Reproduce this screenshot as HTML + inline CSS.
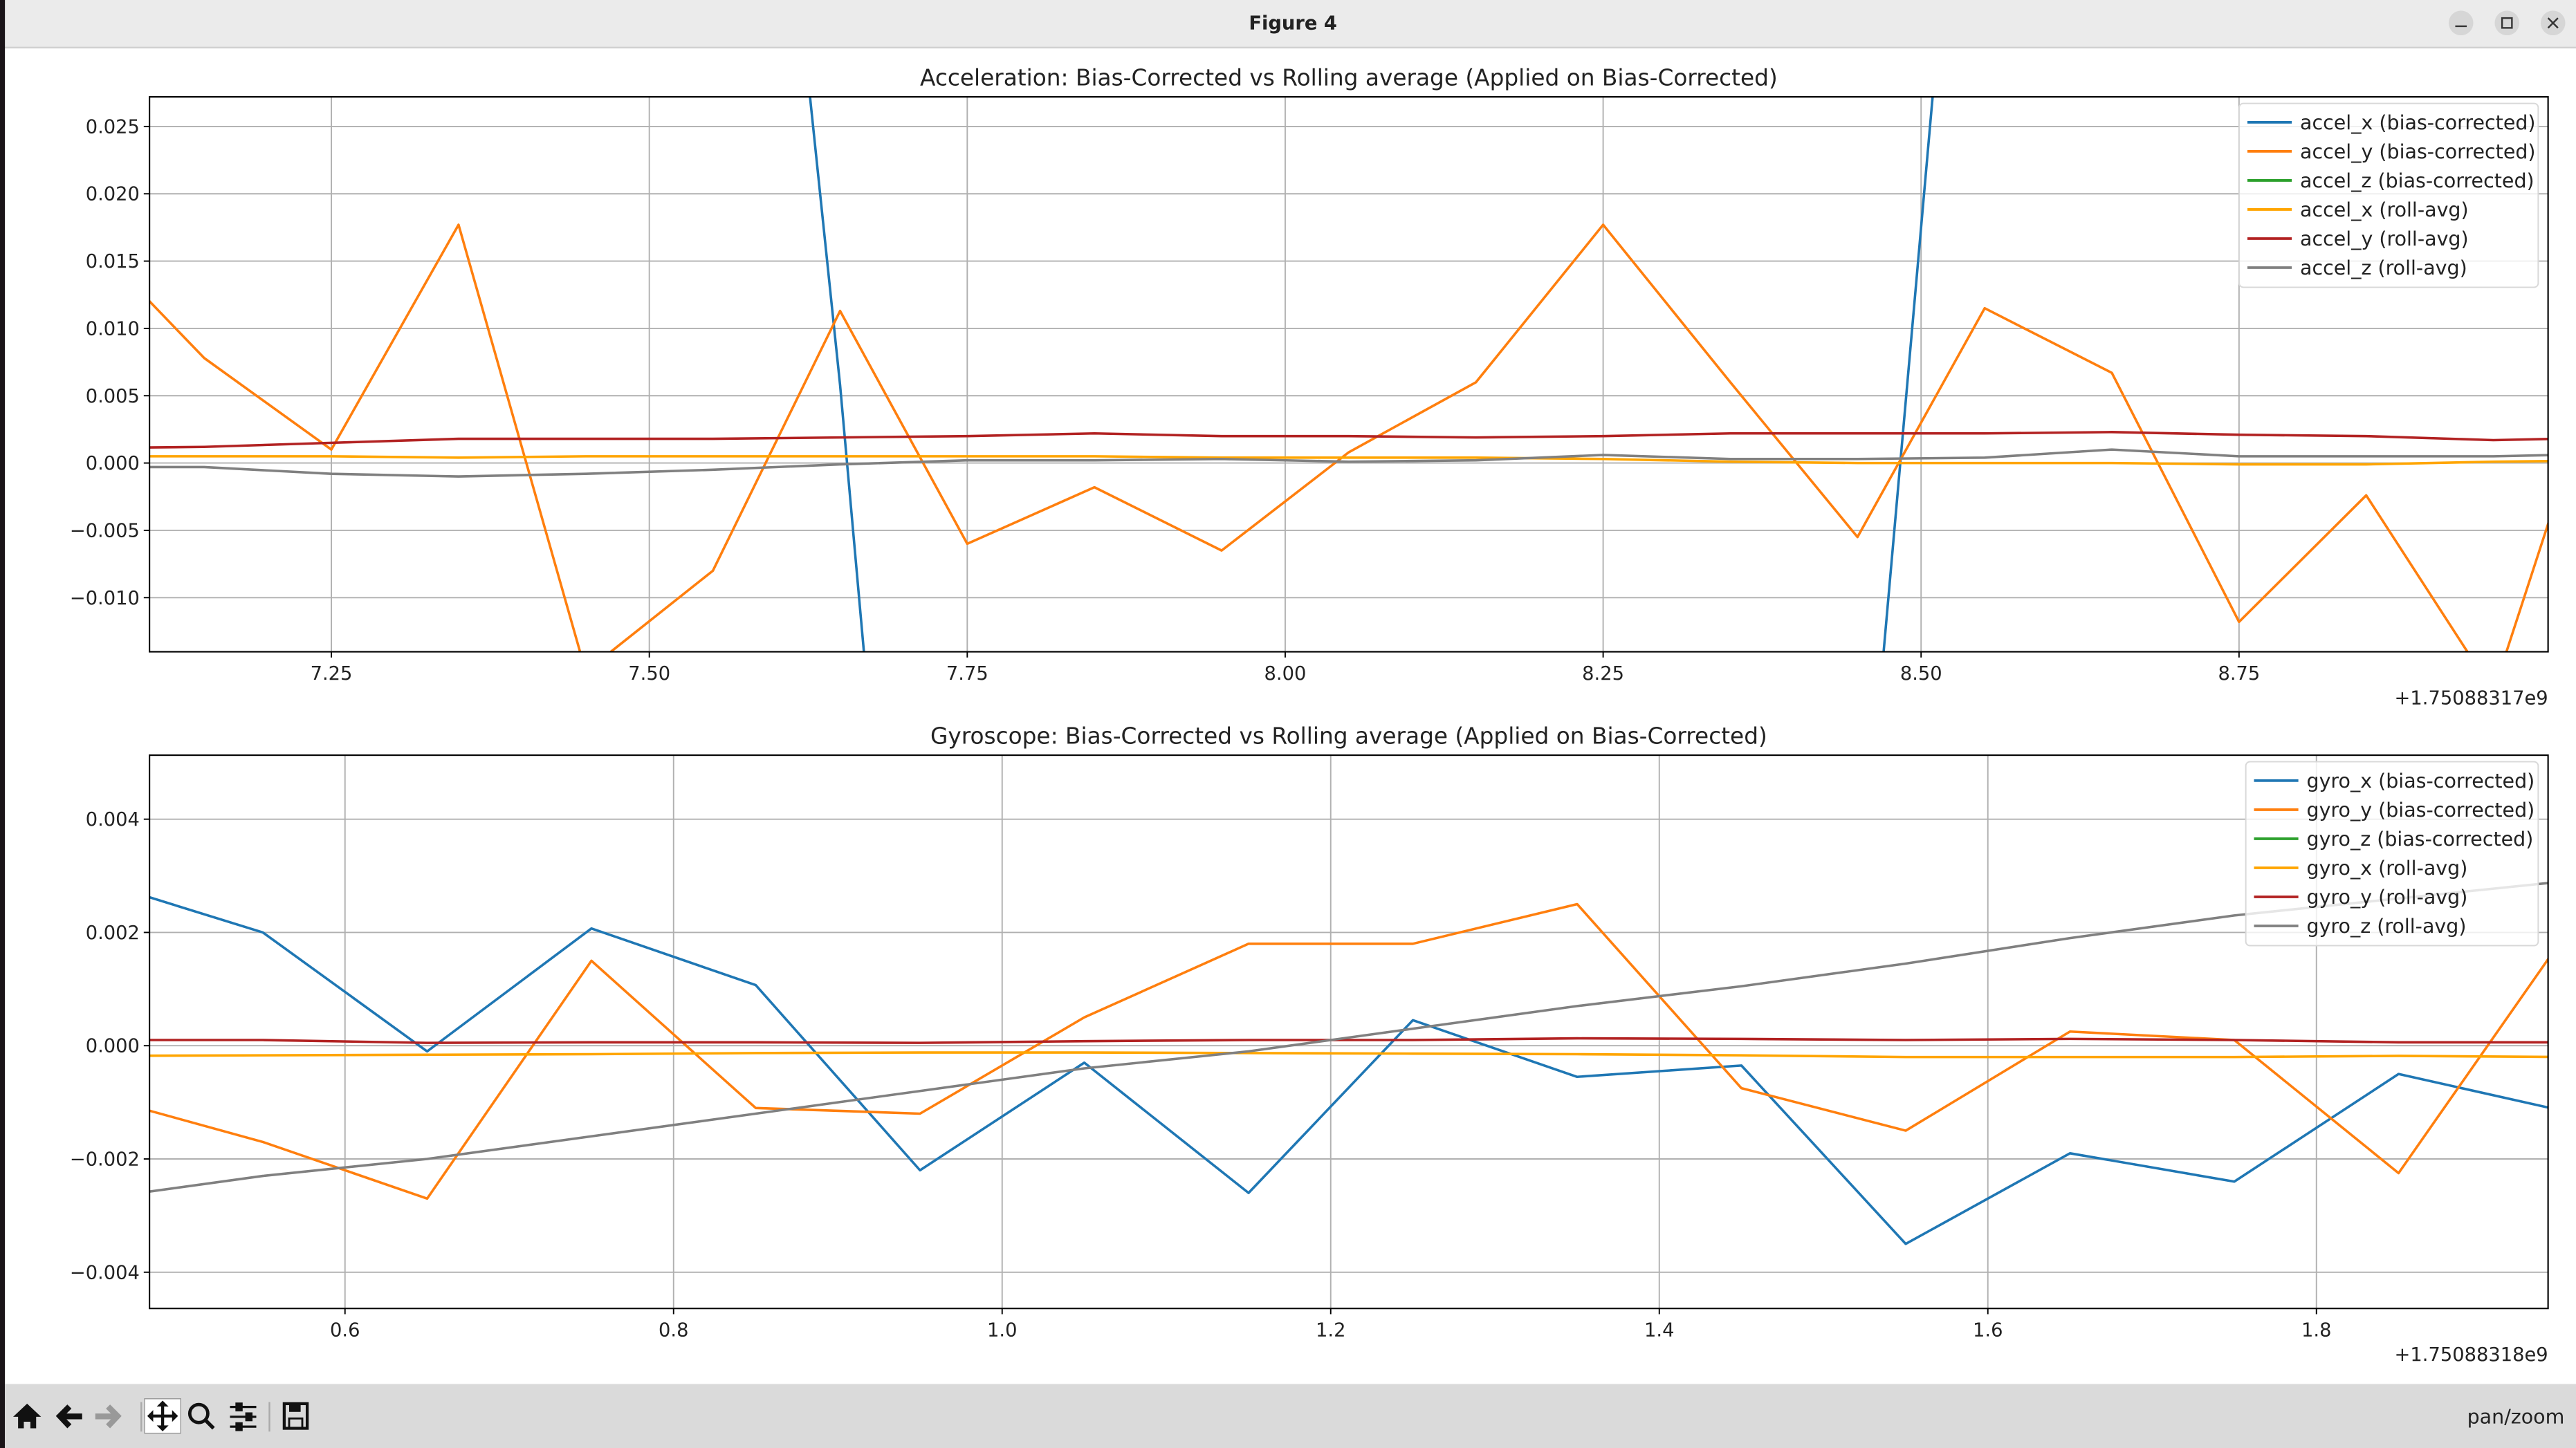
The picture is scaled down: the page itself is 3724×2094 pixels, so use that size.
<!DOCTYPE html>
<html><head><meta charset="utf-8"><style>
html,body{margin:0;padding:0;width:3724px;height:2094px;overflow:hidden;background:#fff}
svg{display:block;position:absolute;left:0;top:0}
text{font-family:"DejaVu Sans","Liberation Sans",sans-serif;fill:#222}
</style></head><body>
<svg id="fig" width="3724" height="2094" viewBox="0 0 1568 882" preserveAspectRatio="none" xmlns="http://www.w3.org/2000/svg">
<rect x="0" y="0" width="1568" height="882" fill="#fff"/>
<rect x="0" y="0" width="1568" height="29" fill="#ebebeb"/>
<line x1="0" y1="29" x2="1568" y2="29" stroke="#d0d0d0"/>
<text x="787" y="18" font-size="11.5" text-anchor="middle" font-weight="bold" fill="#444">Figure 4</text>
<g><circle cx="1498" cy="14" r="7.5" fill="#d6d6d6"/><line x1="1494.5" y1="16" x2="1501.5" y2="16" stroke="#333"/></g>
<g><circle cx="1526" cy="14" r="7.5" fill="#d6d6d6"/><rect x="1523" y="11" width="6" height="6" fill="none" stroke="#333"/></g>
<g><circle cx="1554" cy="14" r="7.5" fill="#d6d6d6"/><path d="M1551 11 L1557 17 M1557 11 L1551 17" stroke="#333"/></g>
<rect x="0" y="0" width="3" height="882" fill="#1a1418"/>
<g id="top"></g>
<g id="bot"></g>
<rect x="3" y="843" width="1565" height="39" fill="#dadada"/>
<g>
<g><path d="M8 863 L16.5 855 L25 863 L22 863 L22 870 L18.5 870 L18.5 866 L14.5 866 L14.5 870 L11 870 L11 863 Z" fill="#111"/></g>
<g><path d="M34 862.5 L41 855.5 L43.5 858 L40.5 861 L50 861 L50 864.5 L40.5 864.5 L43.5 867.5 L41 870 Z" fill="#111"/></g>
<g><path d="M74 862.5 L67 855.5 L64.5 858 L67.5 861 L58 861 L58 864.5 L67.5 864.5 L64.5 867.5 L67 870 Z" fill="#999"/></g>
<line x1="86" y1="854" x2="86" y2="872" stroke="#aaa"/>
<rect x="88" y="852" width="22" height="21" fill="#fff" stroke="#999" stroke-width="0.6"/>
<g stroke="#111" stroke-width="1.8" fill="#111"><line x1="91" y1="862.5" x2="107" y2="862.5"/><line x1="99" y1="854.5" x2="99" y2="870.5"/><path d="M90 862.5 L93 859.5 L93 865.5Z M108 862.5 L105 859.5 L105 865.5Z M99 853.5 L96 856.5 L102 856.5Z M99 871.5 L96 868.5 L102 868.5Z" stroke-width="0.5"/></g>
<g><circle cx="121" cy="861" r="5.5" fill="none" stroke="#111" stroke-width="2"/><line x1="125" y1="865" x2="130" y2="870" stroke="#111" stroke-width="2.2"/></g>
<g stroke="#111" stroke-width="1.4"><line x1="140" y1="857" x2="156" y2="857"/><line x1="140" y1="863" x2="156" y2="863"/><line x1="140" y1="869" x2="156" y2="869"/><rect x="144" y="855" width="3" height="4" fill="#111"/><rect x="150" y="861" width="3" height="4" fill="#111"/><rect x="144" y="867" width="3" height="4" fill="#111"/></g>
<line x1="164" y1="854" x2="164" y2="872" stroke="#aaa"/>
<g><rect x="173" y="855" width="14" height="15" fill="none" stroke="#111" stroke-width="1.8"/><rect x="176" y="855" width="7" height="5" fill="#111"/><rect x="176" y="864" width="8" height="6" fill="none" stroke="#111" stroke-width="1.2"/></g>
</g>
<text x="1561" y="867" font-size="12" text-anchor="end">pan/zoom</text>
</svg>
<script>
// ---- Acceleration data ----
const accTimes=[7.05,7.15,7.25,7.35,7.45,7.55,7.65,7.75,7.85,7.95,8.05,8.15,8.25,8.35,8.45,8.55,8.65,8.75,8.85,8.95,9.05];
const accelXBias=[0.1,0.1,0.1,0.1,0.1,0.0963,0.0058,-0.1,-0.1,-0.1,-0.1,-0.1,-0.1,-0.1,-0.036,0.071,0.1,0.1,0.1,0.1,0.1];
const accelYBias=[0.0176,0.0078,0.001,0.0177,-0.0155,-0.008,0.0113,-0.006,-0.0018,-0.0065,0.0008,0.006,0.0177,0.006,-0.0055,0.0115,0.0067,-0.0118,-0.0024,-0.017,0.012];
const accelZBias=[0.06,0.06,0.06,0.06,0.06,0.06,0.06,0.06,0.06,0.06,0.06,0.06,0.06,0.06,0.06,0.06,0.06,0.06,0.06,0.06,0.06];
const accelXRoll=[0.0005,0.0005,0.0005,0.0004,0.0005,0.0005,0.0005,0.0005,0.0005,0.0004,0.0004,0.0004,0.0003,0.0001,0.0,0.0,0.0,-0.0001,-0.0001,0.0001,0.0002];
const accelYRoll=[0.0011,0.0012,0.0015,0.0018,0.0018,0.0018,0.0019,0.002,0.0022,0.002,0.002,0.0019,0.002,0.0022,0.0022,0.0022,0.0023,0.0021,0.002,0.0017,0.0019];
const accelZRoll=[-0.0003,-0.0003,-0.0008,-0.001,-0.0008,-0.0005,-0.0001,0.0002,0.0002,0.0003,0.0001,0.0002,0.0006,0.0003,0.0003,0.0004,0.001,0.0005,0.0005,0.0005,0.0007];
const accXTicks=[7.25,7.5,7.75,8.0,8.25,8.5,8.75];
const accXTickLabels=["7.25","7.50","7.75","8.00","8.25","8.50","8.75"];
const accYTicks=[-0.01,-0.005,0,0.005,0.01,0.015,0.02,0.025];
const accYTickLabels=["\u22120.010","\u22120.005","0.000","0.005","0.010","0.015","0.020","0.025"];
// ---- Gyroscope data ----
const gyrTimes=[0.45,0.55,0.65,0.75,0.85,0.95,1.05,1.15,1.25,1.35,1.45,1.55,1.65,1.75,1.85,1.95,2.05];
const gyroXBias=[0.0029,0.002,-0.0001,0.00207,0.00107,-0.0022,-0.0003,-0.0026,0.00045,-0.00055,-0.00035,-0.0035,-0.0019,-0.0024,-0.0005,-0.00115,-0.0012];
const gyroYBias=[-0.0009,-0.0017,-0.0027,0.0015,-0.0011,-0.0012,0.0005,0.0018,0.0018,0.0025,-0.00075,-0.0015,0.00025,0.0001,-0.00225,0.0019,0.0019];
const gyroZBias=[0.01,0.01,0.01,0.01,0.01,0.01,0.01,0.01,0.01,0.01,0.01,0.01,0.01,0.01,0.01,0.01,0.01];
const gyroXRoll=[-0.00018,-0.00017,-0.00016,-0.00015,-0.00013,-0.00012,-0.00012,-0.00013,-0.00014,-0.00015,-0.00017,-0.0002,-0.0002,-0.0002,-0.00018,-0.0002,-0.0002];
const gyroYRoll=[0.0001,0.0001,0.00005,0.00006,0.00006,0.00005,0.00008,0.0001,0.0001,0.00013,0.00012,0.0001,0.00012,0.0001,0.00006,0.00006,0.00006];
const gyroZRoll=[-0.0027,-0.0023,-0.002,-0.0016,-0.0012,-0.0008,-0.0004,-0.0001,0.0003,0.0007,0.00105,0.00145,0.0019,0.0023,0.0026,0.0029,0.003];
const gyrXTicks=[0.6,0.8,1.0,1.2,1.4,1.6,1.8];
const gyrXTickLabels=["0.6","0.8","1.0","1.2","1.4","1.6","1.8"];
const gyrYTicks=[-0.004,-0.002,0,0.002,0.004];
const gyrYTickLabels=["\u22120.004","\u22120.002","0.000","0.002","0.004"];

const NS="http://www.w3.org/2000/svg";
function mk(tag,attrs,parent){const e=document.createElementNS(NS,tag);for(const k in attrs)e.setAttribute(k,attrs[k]);parent.appendChild(e);return e;}

function drawPanel(g,cfg){
  const {L,R,T,B,x0,x1,y0,y1}=cfg;
  const sx=v=>L+(v-x0)/(x1-x0)*(R-L);
  const sy=v=>B-(v-y0)/(y1-y0)*(B-T);
  const id='clip'+cfg.key;
  const defs=mk('defs',{},g);const cp=mk('clipPath',{id:id},defs);mk('rect',{x:L,y:T,width:R-L,height:B-T},cp);
  cfg.xt.forEach((v,i)=>{
    const l=mk('line',{x1:sx(v),x2:sx(v),y1:T,y2:B,stroke:'#b0b0b0','stroke-width':0.8},g);
    
    
    mk('line',{x1:sx(v),x2:sx(v),y1:B,y2:B+3.5,stroke:'#000','stroke-width':0.8},g);
    const t=mk('text',{x:sx(v),y:B+17,'font-size':11.5,'text-anchor':'middle'},g);t.textContent=cfg.xl[i];
    
    
  });
  cfg.yt.forEach((v,i)=>{
    const l=mk('line',{x1:L,x2:R,y1:sy(v),y2:sy(v),stroke:'#b0b0b0','stroke-width':0.8},g);
    
    
    mk('line',{x1:L-3.5,x2:L,y1:sy(v),y2:sy(v),stroke:'#000','stroke-width':0.8},g);
    const t=mk('text',{x:L-6,y:sy(v)+4,'font-size':11.5,'text-anchor':'end'},g);t.textContent=cfg.yl[i];
    
    
  });
  const lg=mk('g',{'clip-path':'url(#'+id+')'},g);
  cfg.series.forEach(s=>{
    const p=mk('polyline',{points:cfg.times.map((t,i)=>sx(t)+','+sy(s.v[i])).join(' '),fill:'none',stroke:s.c,'stroke-width':1.5,'stroke-linejoin':'round'},lg);
    
    
  });
  const fr=mk('rect',{x:L,y:T,width:R-L,height:B-T,fill:'none',stroke:'#000','stroke-width':0.9},g);
  
  
  const tt=mk('text',{x:(L+R)/2,y:T-7,'font-size':13.8,'text-anchor':'middle'},g);tt.textContent=cfg.title;
  
  
  const off=mk('text',{x:R,y:B+32,'font-size':11.5,'text-anchor':'end'},g);off.textContent=cfg.offset;
  
  
  const lx=cfg.legX,ly=T+4,lw=R-6-lx,lh=112;
  const box=mk('rect',{x:lx,y:ly,width:lw,height:lh,rx:2.5,fill:'#fff','fill-opacity':0.8,stroke:'#d8d8d8','stroke-width':0.8},g);
  
  
  cfg.series.forEach((s,i)=>{
    const y=ly+11.5+i*17.7;
    const e=mk('g',{},g);
    
    
    mk('line',{x1:lx+5,x2:lx+32,y1:y,y2:y,stroke:s.c,'stroke-width':1.6},e);
    const t=mk('text',{x:lx+37,y:y+4.3,'font-size':12},e);t.textContent=s.n;
  });
}
const C={blue:'#1f77b4',orange:'#ff7f0e',green:'#2ca02c',yel:'#ffa500',red:'#b22222',gray:'#808080'};
drawPanel(document.getElementById('top'),{key:'a',L:91,R:1551,T:59,B:397,x0:7.107,x1:8.993,y0:-0.01402,y1:0.0272,
  xt:accXTicks,xl:accXTickLabels,yt:accYTicks,yl:accYTickLabels,times:accTimes,legX:1363,
  title:'Acceleration: Bias-Corrected vs Rolling average (Applied on Bias-Corrected)',offset:'+1.75088317e9',
  series:[{n:'accel_x (bias-corrected)',v:accelXBias,c:C.blue},{n:'accel_y (bias-corrected)',v:accelYBias,c:C.orange},{n:'accel_z (bias-corrected)',v:accelZBias,c:C.green},
  {n:'accel_x (roll-avg)',v:accelXRoll,c:C.yel},{n:'accel_y (roll-avg)',v:accelYRoll,c:C.red},{n:'accel_z (roll-avg)',v:accelZRoll,c:C.gray}]});
drawPanel(document.getElementById('bot'),{key:'g',L:91,R:1551,T:460,B:797,x0:0.481,x1:1.941,y0:-0.00464,y1:0.00513,
  xt:gyrXTicks,xl:gyrXTickLabels,yt:gyrYTicks,yl:gyrYTickLabels,times:gyrTimes,legX:1367,
  title:'Gyroscope: Bias-Corrected vs Rolling average (Applied on Bias-Corrected)',offset:'+1.75088318e9',
  series:[{n:'gyro_x (bias-corrected)',v:gyroXBias,c:C.blue},{n:'gyro_y (bias-corrected)',v:gyroYBias,c:C.orange},{n:'gyro_z (bias-corrected)',v:gyroZBias,c:C.green},
  {n:'gyro_x (roll-avg)',v:gyroXRoll,c:C.yel},{n:'gyro_y (roll-avg)',v:gyroYRoll,c:C.red},{n:'gyro_z (roll-avg)',v:gyroZRoll,c:C.gray}]});
</script>
</body></html>
